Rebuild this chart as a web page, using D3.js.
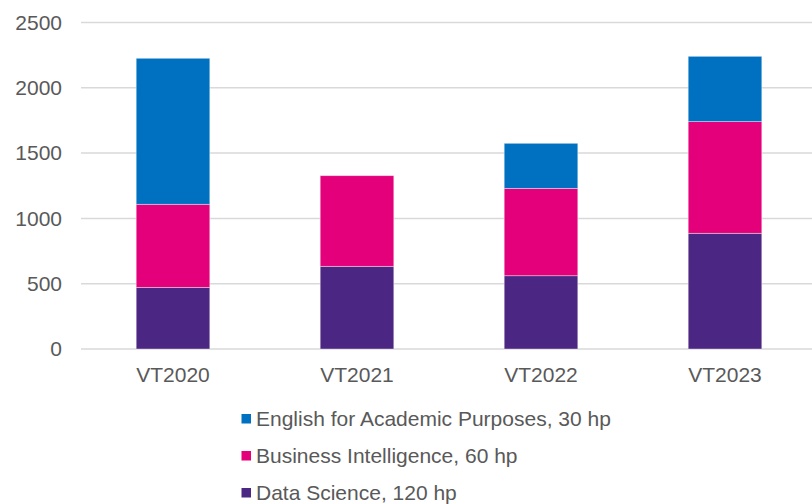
<!DOCTYPE html>
<html>
<head>
<meta charset="utf-8">
<script src="https://cdn.jsdelivr.net/npm/d3@7/dist/d3.min.js"></script>
<style>
  body { margin: 0; background: #fff; }
  svg { display: block; font-family: "Liberation Sans", Arial, sans-serif; }
</style>
</head>
<body>
<svg id="chart" width="812" height="504"></svg>
<script>
const categories = ['VT2020', 'VT2021', 'VT2022', 'VT2023'];
const dataScience = [472, 633, 561, 886];
const businessIntel = [636, 694, 669, 855];
const english = [1118, 0, 345, 500];
const seriesNames = ['Data Science, 120 hp', 'Business Intelligence, 60 hp', 'English for Academic Purposes, 30 hp'];
const seriesColors = ['#4B2683', '#E3007A', '#0070C0'];
const yTicks = [0, 500, 1000, 1500, 2000, 2500];

const width = 812, height = 504;
const plotLeft = 81, plotRight = 817, plotTop = 22.5, plotBottom = 349;

const svg = d3.select('#chart');

const rows = categories.map((c, i) => ({
  cat: c,
  s0: dataScience[i],
  s1: businessIntel[i],
  s2: english[i]
}));

const stack = d3.stack().keys(['s0', 's1', 's2']);
const stacked = stack(rows);

const x = d3.scaleBand()
  .domain(categories)
  .range([plotLeft, plotRight])
  .paddingInner(0.6)
  .paddingOuter(0.3);

const y = d3.scaleLinear()
  .domain([0, 2500])
  .range([plotBottom, plotTop]);

// gridlines
svg.append('g')
  .selectAll('line')
  .data(yTicks)
  .enter().append('line')
  .attr('x1', plotLeft)
  .attr('x2', width)
  .attr('y1', d => y(d))
  .attr('y2', d => y(d))
  .attr('stroke', '#d9d9d9')
  .attr('stroke-width', 1.5);

// y labels
svg.append('g')
  .selectAll('text')
  .data(yTicks)
  .enter().append('text')
  .attr('x', 62)
  .attr('y', d => y(d))
  .attr('dy', '0.35em')
  .attr('text-anchor', 'end')
  .attr('fill', '#595959')
  .style('font-size', '21px')
  .text(d => d);

// bars
svg.append('g')
  .selectAll('g')
  .data(stacked)
  .enter().append('g')
  .attr('fill', (d, i) => seriesColors[i])
  .selectAll('rect')
  .data(d => d.filter(p => p[1] > p[0]))
  .enter().append('rect')
  .attr('x', d => x(d.data.cat))
  .attr('width', x.bandwidth())
  .attr('y', d => y(d[1]))
  .attr('height', d => y(d[0]) - y(d[1]))
  .attr('stroke', '#ffffff')
  .attr('stroke-opacity', 0.5)
  .attr('stroke-width', 0.75);

// x labels
svg.append('g')
  .selectAll('text')
  .data(categories)
  .enter().append('text')
  .attr('x', d => x(d) + x.bandwidth() / 2)
  .attr('y', 381.5)
  .attr('text-anchor', 'middle')
  .attr('fill', '#595959')
  .style('font-size', '21px')
  .text(d => d);

// legend (top to bottom: reversed order)
const legendItems = [2, 1, 0];
const legend = svg.append('g')
  .selectAll('g')
  .data(legendItems)
  .enter().append('g')
  .attr('transform', (d, i) => 'translate(0,' + [426, 463, 500][i] + ')');

legend.append('rect')
  .attr('x', 241.5)
  .attr('y', -12)
  .attr('width', 9.5)
  .attr('height', 9.5)
  .attr('fill', d => seriesColors[d]);

legend.append('text')
  .attr('x', 256)
  .attr('y', 0)
  .attr('fill', '#595959')
  .style('font-size', '21px')
  .text(d => seriesNames[d]);
</script>
</body>
</html>
